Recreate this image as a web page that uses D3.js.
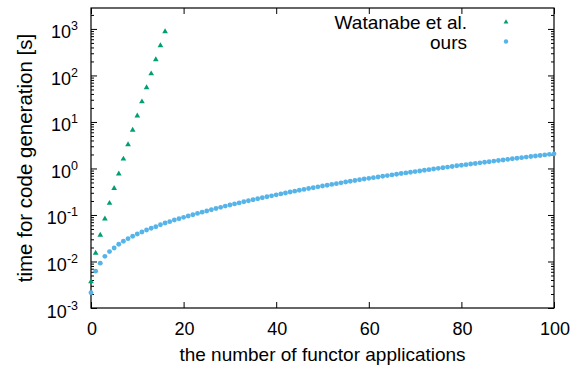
<!DOCTYPE html>
<html><head><meta charset="utf-8">
<script src="https://cdn.jsdelivr.net/npm/d3@7"></script>
<style>
body{margin:0;background:#fff;}
text{font-family:"Liberation Sans",Arial,Helvetica,sans-serif;fill:#000;}
</style></head>
<body><svg id="c" width="580" height="371"></svg>
<script>
const watanabeX = [0,1,2,3,4,5,6,7,8,9,10,11,12,13,14,15,16];
const watanabeY = [0.0037,0.0152,0.037,0.083,0.179,0.375,0.77,1.6,3.25,6.7,13.5,27.3,54.7,109,219,437,875];
const oursX = d3.range(0,101);
const oursY = [0.00214,0.0062,0.0092,0.0129,0.0163,0.0195,0.0234,0.0272,0.031,0.0348,
 0.039,0.043,0.0475,0.0517,0.056,0.0618,0.0673,0.0718,0.078,0.083,
 0.089,0.095,0.101,0.108,0.115,0.122,0.130,0.138,0.146,0.155,
 0.164,0.173,0.182,0.192,0.202,0.212,0.223,0.234,0.246,0.258,
 0.271,0.284,0.297,0.311,0.325,0.340,0.355,0.370,0.386,0.402,
 0.419,0.436,0.454,0.472,0.491,0.510,0.530,0.550,0.571,0.592,
 0.613,0.635,0.657,0.680,0.703,0.727,0.752,0.777,0.803,0.830,
 0.857,0.885,0.913,0.942,0.972,1.005,1.037,1.07,1.10,1.14,
 1.174,1.209,1.245,1.282,1.320,1.359,1.399,1.440,1.482,1.525,
 1.569,1.614,1.660,1.707,1.755,1.804,1.854,1.905,1.957,2.010,2.064];
const xTicks = [0,20,40,60,80,100];
const yExponents = [-3,-2,-1,0,1,2,3];
const seriesNames = ["Watanabe et al.","ours"];
const xTitle = "the number of functor applications";
const yTitle = "time for code generation [s]";

const L=91,R=554,T=8,B=308;
const yMax = Math.pow(10,3.45);
const x = d3.scaleLinear().domain([0,100]).range([L,R]);
const y = d3.scaleLog().domain([1e-3,yMax]).range([B,T]);
const svg = d3.select("#c");
const green="#009e73", blue="#56b4e9";

const major = yExponents.map(e=>Math.pow(10,e));
const minor=[];
yExponents.forEach(e=>{for(let k=2;k<=9;k++){const v=k*Math.pow(10,e); if(v<=yMax) minor.push(v);}});

function strip(g){g.select(".domain").remove(); g.selectAll("line").attr("stroke","#000").attr("stroke-width",1);}
svg.append("g").attr("transform",`translate(${L},0)`).call(d3.axisLeft(y).tickValues(major).tickSizeInner(-6).tickSizeOuter(0).tickFormat("")).call(strip);
svg.append("g").attr("transform",`translate(${L},0)`).call(d3.axisLeft(y).tickValues(minor).tickSizeInner(-3).tickSizeOuter(0).tickFormat("")).call(strip);
svg.append("g").attr("transform",`translate(${R},0)`).call(d3.axisRight(y).tickValues(major).tickSizeInner(-6).tickSizeOuter(0).tickFormat("")).call(strip);
svg.append("g").attr("transform",`translate(${R},0)`).call(d3.axisRight(y).tickValues(minor).tickSizeInner(-3).tickSizeOuter(0).tickFormat("")).call(strip);
svg.append("g").attr("transform",`translate(0,${B})`).call(d3.axisBottom(x).tickValues(xTicks).tickSizeInner(-6).tickSizeOuter(0).tickFormat("")).call(strip);
svg.append("g").attr("transform",`translate(0,${T})`).call(d3.axisTop(x).tickValues(xTicks).tickSizeInner(-6).tickSizeOuter(0).tickFormat("")).call(strip);
svg.append("rect").attr("x",L).attr("y",T).attr("width",R-L).attr("height",B-T).attr("fill","none").attr("stroke","#000").attr("stroke-width",1.2);

// y labels
yExponents.forEach(e=>{
  const t=svg.append("text").attr("x",78).attr("y",y(Math.pow(10,e))+9.5).attr("text-anchor","end").style("font-size","18px");
  t.append("tspan").text("10");
  t.append("tspan").attr("dy",-8).style("font-size","12.5px").text(String(e));
});
// x labels
xTicks.forEach(v=>{
  svg.append("text").attr("x",x(v)+1).attr("y",335).attr("text-anchor","middle").style("font-size","18px").text(v);
});
svg.append("text").attr("x",(L+R)/2).attr("y",361).attr("text-anchor","middle").style("font-size","19px").text(xTitle);
svg.append("text").attr("transform",`translate(32,${(T+B)/2}) rotate(-90)`).attr("text-anchor","middle").style("font-size","20.5px").text(yTitle);

// data
const tri = d3.symbol().type(d3.symbolTriangle).size(14);
svg.append("g").selectAll("path").data(watanabeX).join("path")
  .attr("d",tri).attr("fill",green)
  .attr("transform",(d,i)=>`translate(${x(d)},${y(watanabeY[i])})`);
svg.append("g").selectAll("circle").data(oursX).join("circle")
  .attr("cx",d=>x(d)).attr("cy",(d,i)=>y(oursY[i])).attr("r",2.45).attr("fill",blue);

// legend
svg.append("text").attr("x",467).attr("y",29).attr("text-anchor","end").style("font-size","19px").text(seriesNames[0]);
svg.append("text").attr("x",467).attr("y",48.5).attr("text-anchor","end").style("font-size","19px").text(seriesNames[1]);
svg.append("path").attr("d",d3.symbol().type(d3.symbolTriangle).size(10)).attr("fill",green).attr("transform","translate(506,22)");
svg.append("circle").attr("cx",506).attr("cy",41.5).attr("r",2.2).attr("fill",blue);
</script></body></html>
